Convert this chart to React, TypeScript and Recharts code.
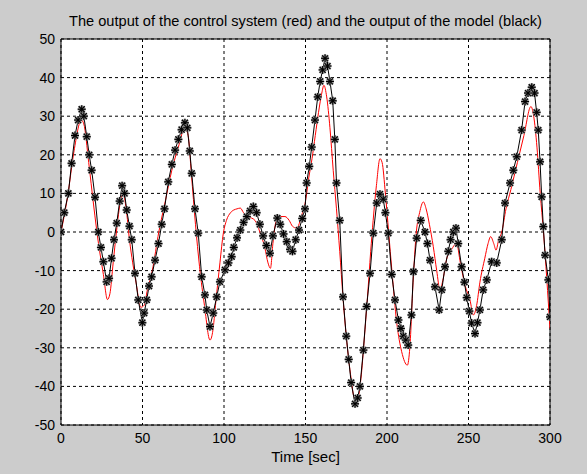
import React from "react";
import { LineChart, Line, XAxis, YAxis, CartesianGrid, ReferenceArea, Label } from "recharts";

// model output (black, with markers)
const modelTime = [
  0, 2, 4.5, 6.5, 8.6, 10.5, 12.7, 14, 15.8, 17.3, 18.8, 20.9, 22.9, 24.5, 26, 28, 29.5, 31, 32.5, 34.2,
  36, 37.5, 39, 40.3, 42, 43.4, 45.4, 47.4, 49.9, 51, 52.6, 54, 55.6, 57.7, 59.8, 61.8, 63.5, 65.8, 68, 70,
  72, 74, 76, 77.5, 79, 80.2, 82.2, 84.2, 86.3, 88.3, 89.4, 91.4, 93.4, 95.5, 97.5, 100.6, 102.7, 104.7, 106, 108,
  110, 112, 114, 116, 118, 120, 122, 124, 126, 128.2, 130, 132.7, 134.5, 136.5, 138.5, 140.5, 142, 144, 146, 148,
  149.7, 150.7, 152.3, 153.8, 155.8, 157.5, 159, 160.5, 162, 163.5, 165, 166.7, 168, 169, 171, 173, 175, 176.5, 178, 180.4,
  182, 183.4, 185.5, 187.5, 189.6, 191.6, 193.7, 195.7, 197.7, 199, 200.8, 202.9, 204.9, 207, 208.5, 210, 211.5, 213, 215, 216.2,
  218.2, 220.7, 223.3, 224.8, 226.4, 229.4, 232, 233.6, 235.6, 237.6, 239, 240.7, 242.3, 243.7, 245.8, 247.5, 248.9, 250.5, 251.9, 254,
  255.5, 257, 259, 261.2, 264.2, 267.3, 270.4, 272.4, 275.5, 277.5, 279.6, 282.6, 284.7, 286.5, 288.8, 290.5, 291.8, 292.8, 293.9, 294.9,
  295.9, 297, 299, 300,
];
const modelValue = [
  0, 5, 10, 17.8, 25, 29, 31.8, 30, 24.7, 20, 16, 9, 0, -4, -7.7, -12.9, -12, -6.8, -2, 2.3,
  8, 12, 10, 5.7, 1.5, -2, -10.7, -17.6, -23.5, -21, -17.6, -14, -11.6, -7.3, -3, 2, 6, 13, 17.5, 21.2,
  24, 26.5, 28.3, 27, 21, 15.2, 6, -0.3, -11.6, -16.3, -20.2, -24.5, -21, -16.8, -12.9, -9.8, -8, -6.4, -4, -1.5,
  0.5, 2.5, 4, 5.5, 6.6, 5, 2, -1, -3.5, -5.5, -1, 3.6, 2, -0.5, -2.5, -4.5, -5, -2, 0.5, 3.5,
  6, 12.7, 17, 22, 29, 35, 39, 42, 45, 43, 39, 34, 24, 12.7, 3, -16.8, -27, -33, -39, -44.5,
  -43, -40, -30.6, -19.3, -10.7, -0.3, 7.5, 9.8, 8.5, 5, -0.3, -11, -17.6, -22.8, -25, -27, -28, -29.3, -21.5, -10.3,
  -1.6, 3, 0, -3, -7.3, -14.2, -20.2, -15, -9, -5, -2, 0, 1, -3, -9, -13, -17, -20.5, -23.6, -26.3,
  -23.5, -20.2, -15, -12.4, -7.7, -8, -2, 7.5, 12.7, 16, 19.5, 26.4, 33.8, 36, 37.5, 36, 31, 26.4, 18.2, 9.1,
  1.4, -6, -12.4, -22,
];

// control system output (red)
const systemTime = [
  0, 4, 8, 12.5, 14, 17, 20, 23, 26, 28.5, 30, 32, 34, 36.5, 38, 40, 42, 44, 46, 49,
  51, 53, 56, 60, 64, 68, 72, 76, 78, 80, 82.5, 85, 88, 91.4, 93, 95, 97.5, 99.6, 101.5, 104,
  106, 108, 110, 112, 115, 119, 122, 125, 127, 128.5, 130, 131.5, 133, 137.4, 140, 142, 144.6, 147.7, 150, 152,
  154, 156, 158, 160, 161.3, 163, 165, 167, 169, 171, 173, 175, 178, 180, 182, 184, 186, 188, 190, 191.5,
  193.5, 195.7, 197, 199, 201, 203, 206, 209, 212.5, 214, 216, 218, 220, 222.3, 224, 226, 228.4, 230.5, 232.5, 234.5,
  236.6, 239, 242.7, 245, 248, 250.9, 253, 255, 257, 260, 262, 263.6, 265.5, 266.9, 268.5, 270.4, 273, 276, 280, 284,
  288.3, 290, 292, 294, 296, 298, 300,
];
const systemValue = [
  0, 9, 21, 29, 28, 18, 7, -3, -11, -17.5, -16, -8, 0, 8, 10, 6, -2, -8, -13, -19.5,
  -19, -15, -10, 0, 8, 16, 22, 27, 25, 15, 2, -9, -19, -28, -26, -18, -8, -0.3, 3, 5,
  5.7, 6, 6.2, 5, 4, 3, 0, -4, -8, -9.4, -3, 2, 4, 4, 3, 1.5, 1, 4.4, 8, 14,
  19, 25, 31, 36, 38, 35, 27, 16, 6, -5, -17, -27, -38, -43, -43, -38, -28, -17, -5, 3,
  12, 19, 18, 10, 0, -10, -23.6, -31, -34.5, -30, -13, 0, 5, 7.8, 6, 2, -3.8, -10, -15, -12,
  -7, -5, -3, -8, -14, -17.6, -21.5, -19, -13, -6.8, -3, -1.2, -3, -4.7, -2, 0, 6, 11, 18, 25,
  32.5, 30, 22, 10, 0, -12, -25,
];

const xTicks = [0, 50, 100, 150, 200, 250, 300];
const yTicks = [-50, -40, -30, -20, -10, 0, 10, 20, 30, 40, 50];

const modelData = modelTime.map((t, i) => ({ t, v: modelValue[i] }));
const systemData = systemTime.map((t, i) => ({ t, v: systemValue[i] }));

const FONT = "'Liberation Sans', Arial, sans-serif";
const TICK = { fontSize: 14, fill: "#000", fontFamily: FONT };

function Asterisk(props: any) {
  const { cx, cy, index } = props;
  if (cx == null || cy == null) return null;
  const r = 4;
  const d = 3;
  const lines = (
    <>
      <line x1={cx - r} y1={cy} x2={cx + r} y2={cy} />
      <line x1={cx} y1={cy - r} x2={cx} y2={cy + r} />
      <line x1={cx - d} y1={cy - d} x2={cx + d} y2={cy + d} />
      <line x1={cx - d} y1={cy + d} x2={cx + d} y2={cy - d} />
    </>
  );
  return (
    <g key={`m-${index}`}>
      <g stroke="#8c8c8c" strokeWidth={2.4}>{lines}</g>
      <g stroke="#000" strokeWidth={1.1}>{lines}</g>
    </g>
  );
}

export default function App() {
  return (
    <div
      style={{
        position: "absolute",
        left: 0,
        top: 0,
        width: 587,
        height: 474,
        background: "#cccccc",
        fontFamily: FONT,
      }}
    >
      <div
        style={{
          position: "absolute",
          left: 61,
          width: 489,
          top: 13,
          textAlign: "center",
          fontSize: 14.6,
          lineHeight: "17px",
          whiteSpace: "nowrap",
        }}
      >
        The output of the control system (red) and the output of the model (black)
      </div>
      <LineChart
        width={587}
        height={474}
        margin={{ top: 39, right: 37, bottom: 4, left: 31 }}
        style={{ position: "absolute", left: 0, top: 0 }}
      >
        <CartesianGrid fill="#fff" stroke="#000" strokeDasharray="3 3" strokeWidth={1} />
        <XAxis
          dataKey="t"
          type="number"
          domain={[0, 300]}
          ticks={xTicks}
          allowDataOverflow
          axisLine={false}
          tickLine={false}
          tickSize={6}
          tickMargin={2}
          tick={TICK}
          height={45}
        >
          <Label value="Time [sec]" position="insideBottom" offset={8} style={{ fontSize: 15, fill: "#000", fontFamily: FONT }} />
        </XAxis>
        <YAxis
          dataKey="v"
          type="number"
          domain={[-50, 50]}
          ticks={yTicks}
          allowDataOverflow
          axisLine={false}
          tickLine={false}
          tickSize={4}
          tickMargin={2}
          tick={TICK}
          width={30}
        />
        <Line
          data={systemData}
          dataKey="v"
          type="monotone"
          stroke="#ff0000"
          strokeWidth={1}
          dot={false}
          isAnimationActive={false}
        />
        <Line
          data={modelData}
          dataKey="v"
          type="linear"
          stroke="#000"
          strokeWidth={1}
          dot={Asterisk}
          isAnimationActive={false}
        />
        <ReferenceArea x1={0} x2={300} y1={-50} y2={50} fill="none" stroke="#000" strokeWidth={1} ifOverflow="visible" />
      </LineChart>
    </div>
  );
}
